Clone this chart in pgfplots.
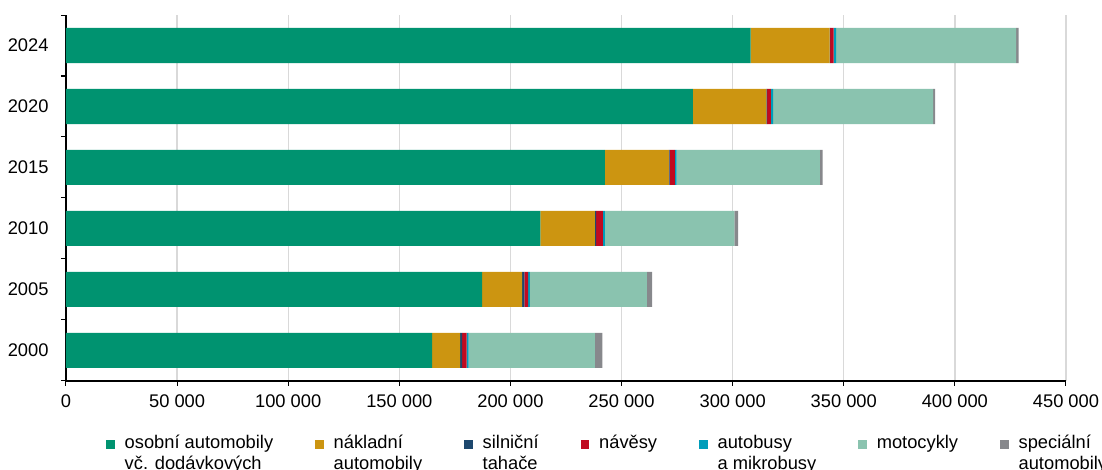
\documentclass[border=0pt]{standalone}
\usepackage{pgfplots}
\usepackage{pgfplotstable}
\pgfplotsset{compat=1.18}
\usepackage{fontspec}
\setmainfont{Liberation Sans}
\definecolor{cOsobni}{RGB}{0,147,112}
\definecolor{cNaklad}{RGB}{204,149,17}
\definecolor{cTahace}{RGB}{29,72,110}
\definecolor{cNavesy}{RGB}{192,10,32}
\definecolor{cBus}{RGB}{0,157,186}
\definecolor{cMoto}{RGB}{138,195,175}
\definecolor{cSpec}{RGB}{135,136,140}
\definecolor{cGrid}{RGB}{217,217,217}
\pgfplotstableread{
y osobni naklad tahace navesy autobusy moto special
0 164800 12600 900 1950 900 56900 3300
1 187300 18000 1000 1650 750 52700 2400
2 213500 24500 600 3000 900 58300 1650
3 242500 28800 300 2400 750 64500 1200
4 282100 33100 300 1700 1000 72000 900
5 308100 35500 300 1500 1200 81000 1100
}\data
\newcommand{\lt}[1]{\begin{tabular}[t]{@{}l@{}}#1\end{tabular}}
\begin{document}
\begin{tikzpicture}
\begin{axis}[
  at={(0,0)}, anchor=south west,
  scale only axis, width=1000pt, height=366pt,
  xbar stacked, bar width=35pt,
  xmin=0, xmax=450000, ymin=-0.5, ymax=5.5,
  axis x line*=bottom, axis y line*=left,
  axis line style={black, line width=1.2pt, -},
  xtick={0,50000,...,450000},
  xticklabels={0,50 000,100 000,150 000,200 000,250 000,300 000,350 000,400 000,450 000},
  scaled x ticks=false,
  xticklabel style={yshift=-5pt},
  ytick={-0.5,0.5,...,5.5},
  yticklabels={2000,2005,2010,2015,2020,2024,{}},
  yticklabel style={yshift=30.5pt, xshift=-9pt},
  tick align=outside, major tick length=5pt,
  tick style={black, line width=1pt},
  xmajorgrids, major x grid style={draw=cGrid, line width=1.3pt},
  ticklabel style={font=\fontsize{18.3}{21}\selectfont},
  legend columns=7,
  legend style={draw=none, fill=none, inner sep=0pt,
    at={(0,0)}, anchor=north west, xshift=40pt, yshift=-51pt,
    font=\fontsize{18.3}{21}\selectfont,
    /tikz/every even column/.append style={column sep=40pt},
    /tikz/every odd column/.append style={column sep=8pt},
    cells={anchor=base west}},
  legend image code/.code={\path[#1, draw=none] (0pt,0pt) rectangle (8.5pt,9pt);},
]
\addplot[fill=cOsobni, draw=none] table[x=osobni, y=y] {\data};
\addlegendentry{\lt{osobní automobily\\vč. dodávkových}}
\addplot[fill=cNaklad, draw=none] table[x=naklad, y=y] {\data};
\addlegendentry{\lt{nákladní\\automobily}}
\addplot[fill=cTahace, draw=none] table[x=tahace, y=y] {\data};
\addlegendentry{\lt{silniční\\tahače}}
\addplot[fill=cNavesy, draw=none] table[x=navesy, y=y] {\data};
\addlegendentry{\lt{návěsy}}
\addplot[fill=cBus, draw=none] table[x=autobusy, y=y] {\data};
\addlegendentry{\lt{autobusy\\a mikrobusy}}
\addplot[fill=cMoto, draw=none] table[x=moto, y=y] {\data};
\addlegendentry{\lt{motocykly}}
\addplot[fill=cSpec, draw=none] table[x=special, y=y] {\data};
\addlegendentry{\lt{speciální\\automobily}}
\end{axis}
\pgfresetboundingbox
\path[use as bounding box] (-66pt,-89pt) rectangle (1036pt,381pt);
\end{tikzpicture}
\end{document}
